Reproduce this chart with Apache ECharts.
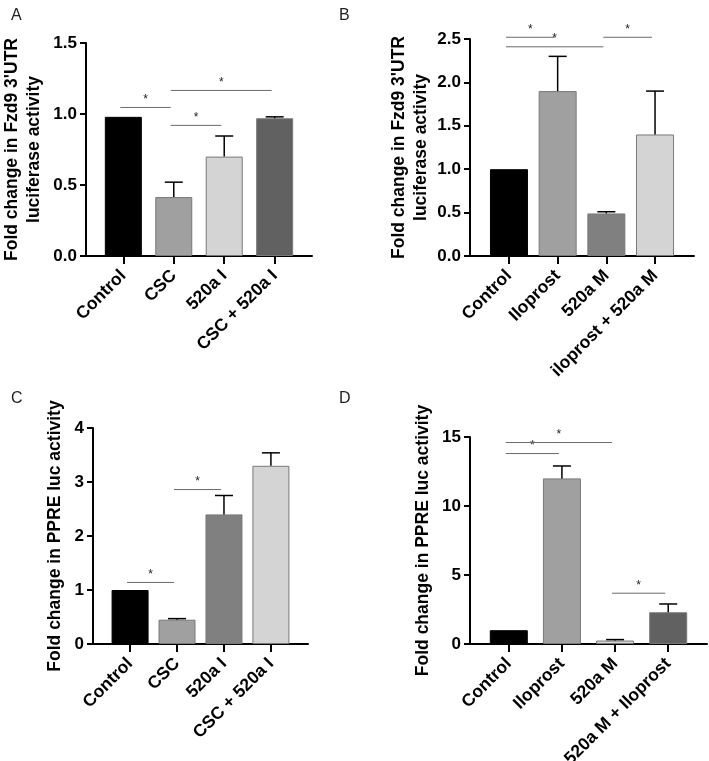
<!DOCTYPE html>
<html><head><meta charset="utf-8">
<script src="https://cdn.jsdelivr.net/npm/echarts@6/dist/echarts.min.js"></script>
<style>html,body{margin:0;padding:0;background:#fff}#c{width:709px;height:761px}</style>
</head><body><div id="c"></div>
<script>
// ---------- data ----------
const catsA = ['Control', 'CSC', '520a I', 'CSC + 520a I'];
const meanA = [0.98, 0.415, 0.70, 0.97];
const errA  = [0, 0.105, 0.145, 0.01];
const sigA  = [[0, 1, 1.046], [1, 2, 0.92], [1, 3, 1.166]];

const catsB = ['Control', 'Iloprost', '520a M', 'iloprost + 520a M'];
const meanB = [1.0, 1.9, 0.49, 1.4];
const errB  = [0, 0.4, 0.02, 0.5];
const sigB  = [[0, 1, 2.52], [0, 2, 2.41], [2, 3, 2.52]];

const catsC = ['Control', 'CSC', '520a I', 'CSC + 520a I'];
const meanC = [1.0, 0.45, 2.4, 3.3];
const errC  = [0, 0.02, 0.35, 0.24];
const sigC  = [[0, 1, 1.14], [1, 2, 2.86]];

const catsD = ['Control', 'Iloprost', '520a M', '520a M + Iloprost'];
const meanD = [1.0, 12.0, 0.25, 2.3];
const errD  = [0, 0.9, 0.07, 0.6];
const sigD  = [[0, 1, 13.8], [0, 2, 14.6], [2, 3, 3.68]];

const yMaxA = 1.5, yStepA = 0.5;
const yMaxB = 2.5, yStepB = 0.5;
const yMaxC = 4, yStepC = 1;
const yMaxD = 15, yStepD = 5;

const nameA = "Fold change in Fzd9 3'UTR\nluciferase activity";
const nameB = "Fold change in Fzd9 3'UTR\nluciferase activity";
const nameC = 'Fold change in PPRE luc activity';
const nameD = 'Fold change in PPRE luc activity';

// ---------- styles ----------
const colorsA = ['#000000', '#a0a0a0', '#d4d4d4', '#616161'];
const colorsB = ['#000000', '#a0a0a0', '#808080', '#d4d4d4'];
const colorsC = ['#000000', '#a0a0a0', '#808080', '#d4d4d4'];
const colorsD = ['#000000', '#a0a0a0', '#d4d4d4', '#616161'];

const FONT = "'Liberation Sans', Arial, Helvetica, sans-serif";

const panels = [
  {cats: catsA, mean: meanA, err: errA, sig: sigA, yMax: yMaxA, yStep: yStepA, dec: 1, name: nameA, colors: colorsA,
   grid: {left: 86, top: 43, width: 226, height: 213}, pad: 0.74, barW: 37, nameGap: 41},
  {cats: catsB, mean: meanB, err: errB, sig: sigB, yMax: yMaxB, yStep: yStepB, dec: 1, name: nameB, colors: colorsB,
   grid: {left: 470, top: 39, width: 224, height: 217}, pad: 0.80, barW: 38, nameGap: 38},
  {cats: catsC, mean: meanC, err: errC, sig: sigC, yMax: yMaxC, yStep: yStepC, dec: 0, name: nameC, colors: colorsC,
   grid: {left: 93, top: 428, width: 215, height: 216}, pad: 0.79, barW: 37, nameGap: 27},
  {cats: catsD, mean: meanD, err: errD, sig: sigD, yMax: yMaxD, yStep: yStepD, dec: 0, name: nameD, colors: colorsD,
   grid: {left: 470, top: 437, width: 237, height: 207}, pad: 0.73, barW: 38, nameGap: 36}
];

const grids = [], xAxes = [], yAxes = [], series = [];
panels.forEach((p, k) => {
  grids.push(Object.assign({containLabel: false, outerBoundsMode: 'none'}, p.grid));
  const idx = p.cats.map((_, i) => i);
  xAxes.push({
    type: 'value', gridIndex: k, min: -p.pad, max: p.cats.length - 1 + p.pad,
    splitLine: {show: false},
    axisLine: {show: true, onZero: false, lineStyle: {color: '#000', width: 2}},
    axisTick: {show: true, customValues: idx, length: 8, lineStyle: {color: '#000', width: 2}},
    axisLabel: {show: true, customValues: idx, formatter: v => p.cats[Math.round(v)] || '',
      rotate: 45, margin: 17, fontSize: 17.5, fontWeight: 'bold', color: '#000', fontFamily: FONT}
  });
  yAxes.push({
    type: 'value', gridIndex: k, min: 0, max: p.yMax, interval: p.yStep,
    splitLine: {show: false},
    axisLine: {show: true, onZero: false, lineStyle: {color: '#000', width: 2}},
    axisTick: {show: true, length: 6, lineStyle: {color: '#000', width: 2}},
    axisLabel: {fontSize: 17, fontWeight: 'bold', color: '#000', margin: 9, fontFamily: FONT,
      formatter: v => v.toFixed(p.dec)},
    name: p.name, nameLocation: 'middle', nameGap: p.nameGap,
    nameTextStyle: {fontSize: 17.5, fontWeight: 'bold', color: '#000', lineHeight: 22, fontFamily: FONT}
  });
  series.push({
    type: 'bar', xAxisIndex: k, yAxisIndex: k, barWidth: p.barW,
    data: p.mean.map((v, i) => ({value: [i, v], itemStyle: {color: p.colors[i], borderColor: i === 0 ? '#000' : '#787878', borderWidth: 1}})),
    silent: true
  });
  series.push({
    type: 'custom', xAxisIndex: k, yAxisIndex: k, z: 5, silent: true,
    data: p.mean.map((v, i) => [i, v, p.err[i]]),
    renderItem: (params, api) => {
      const e = api.value(2);
      if (!(e > 0)) return null;
      const a = api.coord([api.value(0), api.value(1)]);
      const b = api.coord([api.value(0), api.value(1) + e]);
      const st = {stroke: '#000', lineWidth: 1.5};
      return {type: 'group', children: [
        {type: 'line', shape: {x1: a[0], y1: a[1], x2: b[0], y2: b[1]}, style: st},
        {type: 'line', shape: {x1: b[0] - 9, y1: b[1], x2: b[0] + 9, y2: b[1]}, style: st}
      ]};
    }
  });
  series.push({
    type: 'custom', xAxisIndex: k, yAxisIndex: k, z: 6, silent: true,
    data: p.sig,
    renderItem: (params, api) => {
      const a = api.coord([api.value(0), api.value(2)]);
      const b = api.coord([api.value(1), api.value(2)]);
      return {type: 'group', children: [
        {type: 'line', shape: {x1: a[0] - 3, y1: a[1], x2: b[0] - 3, y2: b[1]}, style: {stroke: '#6a6a6a', lineWidth: 1}},
        {type: 'text', x: (a[0] + b[0]) / 2 - 3, y: a[1] - 2,
         style: {text: '*', fill: '#222', fontSize: 12, fontFamily: FONT, align: 'center', verticalAlign: 'bottom'}}
      ]};
    }
  });
});

const letterStyle = {fontSize: 16, fontWeight: 'normal', color: '#222', fontFamily: FONT};
const chart = echarts.init(document.getElementById('c'), null, {renderer: 'canvas'});
chart.setOption({
  backgroundColor: '#fff',
  animation: false,
  textStyle: {fontFamily: FONT},
  title: [
    {text: 'A', left: 6, top: 3, textStyle: letterStyle},
    {text: 'B', left: 334, top: 3, textStyle: letterStyle},
    {text: 'C', left: 6, top: 386, textStyle: letterStyle},
    {text: 'D', left: 334, top: 386, textStyle: letterStyle}
  ],
  grid: grids, xAxis: xAxes, yAxis: yAxes, series: series
});
</script>
</body></html>
